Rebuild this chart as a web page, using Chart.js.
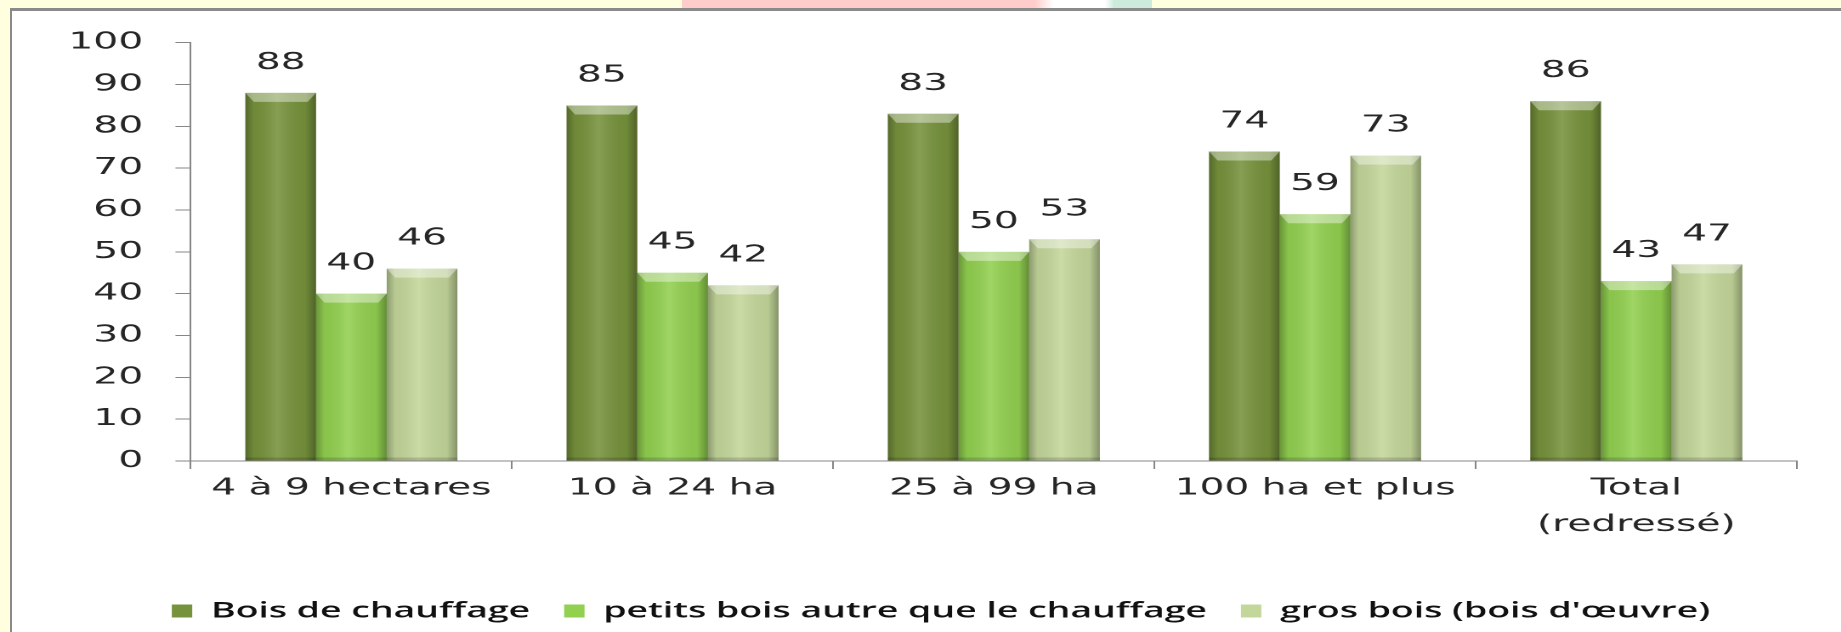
<!DOCTYPE html>
<html>
<head>
<meta charset="utf-8">
<script src="https://cdn.jsdelivr.net/npm/chart.js@4.4.0/dist/chart.umd.min.js"></script>
<style>
  html, body { margin: 0; padding: 0; }
  body { width: 1841px; height: 632px; overflow: hidden; position: relative; background: #FFFFE0; }
  #pink { position: absolute; left: 682px; top: 0; width: 470px; height: 9px;
    background: linear-gradient(to right, #FFCCCC 0, #FFCCCC 75%, #ffffff 79%, #ffffff 90%, #CCEBDD 92%, #CCEBDD 100%); }
  #frame { position: absolute; left: 10px; top: 8px; width: 1840px; height: 640px; background: #fff;
    border-left: 2px solid #8a8a8a; border-top: 3px solid #8a8a8a; }
  #wrap { position: absolute; left: 0; top: 0; width: 1083px; height: 632px;
    transform: scaleX(1.7); transform-origin: 0 0; }
</style>
</head>
<body>
<div id="pink"></div>
<div id="frame"></div>
<div id="wrap"><canvas id="chart"></canvas></div>
<script>
const categories = ['4 à 9 hectares', '10 à 24 ha', '25 à 99 ha', '100 ha et plus', ['Total', '(redressé)']];
const boisChauffage = [88, 85, 83, 74, 86];
const petitsBois = [40, 45, 50, 59, 43];
const grosBois = [46, 42, 53, 73, 47];
const seriesNames = ['Bois de chauffage', 'petits bois autre que le chauffage', 'gros bois (bois d\'œuvre)'];
const colors = ['#76923C', '#92D050', '#C4D79B'];

const axisColor = '#868686';
const textColor = '#262626';

// 3D-ish shading on each bar, then the value above it
const barDecor = {
  id: 'barDecor',
  afterDatasetsDraw(chart) {
    const ctx = chart.ctx;
    ctx.save();
    chart.data.datasets.forEach((ds, i) => {
      const meta = chart.getDatasetMeta(i);
      meta.data.forEach((el, j) => {
        const left = el.x - el.width / 2;
        const right = el.x + el.width / 2;
        const top = el.y;
        const bottom = el.base;
        const g = ctx.createLinearGradient(left, 0, right, 0);
        g.addColorStop(0, 'rgba(0,0,0,0.28)');
        g.addColorStop(0.12, 'rgba(0,0,0,0.06)');
        g.addColorStop(0.45, 'rgba(255,255,255,0.12)');
        g.addColorStop(0.85, 'rgba(0,0,0,0.06)');
        g.addColorStop(1, 'rgba(0,0,0,0.32)');
        ctx.fillStyle = g;
        ctx.fillRect(left, top, right - left, bottom - top);
        // top bevel
        ctx.beginPath();
        ctx.moveTo(left, top);
        ctx.lineTo(right, top);
        ctx.lineTo(right - 5, top + 9);
        ctx.lineTo(left + 5, top + 9);
        ctx.closePath();
        ctx.fillStyle = 'rgba(255,255,255,0.4)';
        ctx.fill();
        // bottom band
        ctx.fillStyle = 'rgba(0,0,0,0.15)';
        ctx.fillRect(left, bottom - 3, right - left, 3);

        ctx.fillStyle = textColor;
        ctx.font = '23px "DejaVu Sans"';
        ctx.textAlign = 'center';
        ctx.textBaseline = 'middle';
        ctx.fillText(ds.data[j], el.x, el.y - 30);
      });
    });
    ctx.restore();
  }
};

// legend sits a bit right of the plot centre in the original
const legendShift = {
  id: 'legendShift',
  afterLayout(chart) {
    if (chart.legend) {
      chart.legend.left += 25;
      chart.legend.right += 25;
    }
  }
};

new Chart(document.getElementById('chart'), {
  type: 'bar',
  data: {
    labels: categories,
    datasets: [
      { label: seriesNames[0], data: boisChauffage, backgroundColor: colors[0] },
      { label: seriesNames[1], data: petitsBois, backgroundColor: colors[1] },
      { label: seriesNames[2], data: grosBois, backgroundColor: colors[2] }
    ]
  },
  options: {
    responsive: true,
    maintainAspectRatio: false,
    devicePixelRatio: 2,
    animation: false,
    datasets: {
      bar: { categoryPercentage: 0.66, barPercentage: 1, borderWidth: 0 }
    },
    layout: { padding: { top: 42.7, right: 26, left: 0, bottom: 0 } },
    plugins: {
      tooltip: { enabled: false },
      legend: {
        position: 'bottom',
        labels: {
          color: '#111',
          font: { family: '"Open Sans"', size: 22, weight: '600' },
          boxWidth: 12,
          boxHeight: 13,
          padding: 20
        }
      }
    },
    scales: {
      x: {
        grid: { drawOnChartArea: false, tickLength: 8, color: axisColor },
        border: { color: axisColor },
        ticks: {
          color: textColor,
          font: { family: '"DejaVu Sans"', size: 23, lineHeight: 1.6 },
          padding: 1,
          maxRotation: 0
        },
        afterFit(axis) { axis.height = 119; }
      },
      y: {
        min: 0,
        max: 100,
        grid: { drawOnChartArea: false, tickLength: 9, color: axisColor },
        border: { color: axisColor },
        ticks: {
          stepSize: 10,
          color: textColor,
          font: { family: '"DejaVu Sans"', size: 23 },
          padding: 19
        },
        afterFit(axis) { axis.width = 112.2; }
      }
    }
  },
  plugins: [barDecor, legendShift]
});
</script>
</body>
</html>
